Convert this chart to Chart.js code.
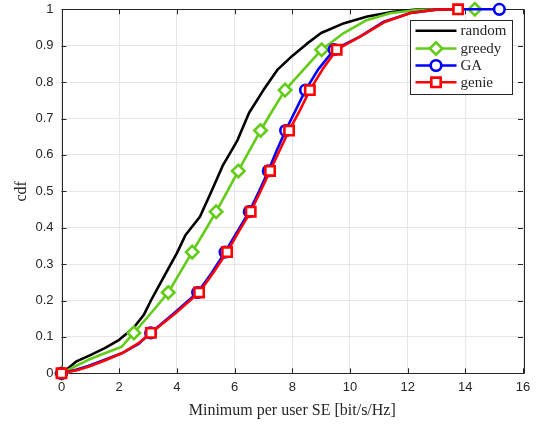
<!DOCTYPE html>
<html>
<head>
<meta charset="utf-8">
<script src="https://cdn.jsdelivr.net/npm/chart.js@4"></script>
<style>
html,body{margin:0;padding:0;background:#fff;}
#wrap{position:relative;width:539px;height:426px;}
</style>
</head>
<body>
<div id="wrap"><canvas id="c" width="539" height="426"></canvas></div>
<script>
// ---- data ----
const xTicks = [0, 2, 4, 6, 8, 10, 12, 14, 16];
const yTicks = [0, 0.1, 0.2, 0.3, 0.4, 0.5, 0.6, 0.7, 0.8, 0.9, 1];
const seriesNames = ['random', 'greedy', 'GA', 'genie'];

const randomX = [0, 0.2, 0.5, 1.0, 1.5, 2.0, 2.5, 2.85, 3.1, 3.5, 4.0, 4.3, 4.8, 5.2, 5.6, 6.1, 6.5, 7.0, 7.5, 8.0, 8.5, 9.0, 9.8, 10.6, 11.5, 12.3, 13.0];
const randomY = [0, 0.012, 0.032, 0.05, 0.069, 0.092, 0.125, 0.16, 0.2, 0.258, 0.33, 0.38, 0.43, 0.5, 0.572, 0.64, 0.715, 0.778, 0.835, 0.872, 0.905, 0.935, 0.962, 0.98, 0.993, 0.999, 1];

const greedyX = [0, 0.5, 0.93, 1.5, 2.09, 2.51, 3.1, 3.70, 4.1, 4.53, 5.0, 5.36, 5.75, 6.13, 6.5, 6.90, 7.3, 7.75, 8.4, 9.02, 9.77, 10.58, 11.39, 12.3, 13.2, 14.33];
const greedyY = [0, 0.02, 0.037, 0.055, 0.073, 0.111, 0.165, 0.222, 0.275, 0.333, 0.395, 0.444, 0.5, 0.556, 0.61, 0.667, 0.72, 0.778, 0.835, 0.889, 0.934, 0.97, 0.989, 0.998, 1, 1];
const greedyMarkX = [0, 2.51, 3.70, 4.53, 5.36, 6.13, 6.90, 7.75, 9.02, 14.33];
const greedyMarkY = [0, 0.111, 0.222, 0.333, 0.444, 0.556, 0.667, 0.778, 0.889, 1];

const gaX = [0, 0.5, 0.93, 1.5, 2.09, 2.66, 3.09, 3.9, 4.72, 5.2, 5.67, 6.1, 6.51, 6.85, 7.17, 7.45, 7.77, 8.1, 8.46, 8.9, 9.45, 10.35, 11.15, 12.1, 13.0, 13.8, 15.18];
const gaY = [0, 0.01, 0.02, 0.037, 0.055, 0.08, 0.111, 0.165, 0.222, 0.275, 0.333, 0.39, 0.444, 0.5, 0.556, 0.61, 0.667, 0.72, 0.778, 0.835, 0.889, 0.925, 0.965, 0.99, 0.999, 1, 1];
const gaMarkX = [0, 3.09, 4.72, 5.67, 6.51, 7.17, 7.77, 8.46, 9.45, 15.18];
const gaMarkY = [0, 0.111, 0.222, 0.333, 0.444, 0.556, 0.667, 0.778, 0.889, 1];

const genieX = [0, 0.5, 0.93, 1.5, 2.09, 2.66, 3.10, 3.95, 4.77, 5.25, 5.74, 6.15, 6.56, 6.9, 7.23, 7.55, 7.89, 8.25, 8.61, 9.05, 9.54, 10.35, 11.2, 12.1, 13.0, 13.75];
const genieY = [0, 0.008, 0.018, 0.035, 0.055, 0.082, 0.111, 0.165, 0.222, 0.275, 0.333, 0.39, 0.444, 0.5, 0.556, 0.61, 0.667, 0.72, 0.778, 0.835, 0.889, 0.925, 0.965, 0.99, 0.999, 1];
const genieMarkX = [0, 3.10, 4.77, 5.74, 6.56, 7.23, 7.89, 8.61, 9.54, 13.75];
const genieMarkY = [0, 0.111, 0.222, 0.333, 0.444, 0.556, 0.667, 0.778, 0.889, 1];

// ---- styles ----
const COLORS = {random: '#000000', greedy: 'rgb(98,204,24)', GA: '#0000ff', genie: '#ff0000'};
const STYLES = {random: null, greedy: 'rectRot', GA: 'circle', genie: 'rect'};
const RADII = {greedy: 6.2, GA: 5.3, genie: 6.6};
const LW = 2.6;
const AXIS = '#262626';

function pts(xs, ys) { return xs.map((x, i) => ({x: x, y: ys[i]})); }

function lineDs(name, xs, ys, order) {
  return {label: name, data: pts(xs, ys), showLine: true, borderColor: COLORS[name], borderWidth: LW,
    pointRadius: 0, fill: false, tension: 0, order: order, clip: false,
    borderJoinStyle: 'round', borderCapStyle: 'round'};
}
function markDs(name, xs, ys, order) {
  return {label: name + '_m', data: pts(xs, ys), showLine: false, borderColor: COLORS[name],
    backgroundColor: '#ffffff', pointStyle: STYLES[name], pointRadius: RADII[name],
    pointBorderWidth: LW, order: order, clip: false};
}

const datasets = [
  markDs('genie', genieMarkX, genieMarkY, 0),
  lineDs('genie', genieX, genieY, 1),
  markDs('GA', gaMarkX, gaMarkY, 2),
  lineDs('GA', gaX, gaY, 3),
  markDs('greedy', greedyMarkX, greedyMarkY, 4),
  lineDs('greedy', greedyX, greedyY, 5),
  lineDs('random', randomX, randomY, 6)
];

function drawMarker(ctx, style, x, y, r, color) {
  ctx.save();
  ctx.strokeStyle = color; ctx.fillStyle = '#fff'; ctx.lineWidth = LW;
  ctx.beginPath();
  if (style === 'rectRot') {
    ctx.moveTo(x - r, y); ctx.lineTo(x, y - r); ctx.lineTo(x + r, y); ctx.lineTo(x, y + r); ctx.closePath();
  } else if (style === 'circle') {
    ctx.arc(x, y, r, 0, Math.PI * 2);
  } else if (style === 'rect') {
    const s = r * Math.SQRT1_2; ctx.rect(x - s, y - s, 2 * s, 2 * s);
  }
  ctx.fill(); ctx.stroke();
  ctx.restore();
}

const framePlugin = {
  id: 'frame',
  beforeDatasetsDraw(chart) {
    const {ctx, chartArea: a, scales} = chart;
    ctx.save();
    ctx.strokeStyle = AXIS; ctx.lineWidth = 1;
    ctx.beginPath();
    ctx.rect(Math.round(a.left) + 0.5, Math.round(a.top) + 0.5, Math.round(a.right - a.left), Math.round(a.bottom - a.top));
    const T = 5;
    xTicks.forEach(v => {
      const px = Math.round(scales.x.getPixelForValue(v)) + 0.5;
      ctx.moveTo(px, a.bottom); ctx.lineTo(px, a.bottom - T);
      ctx.moveTo(px, a.top); ctx.lineTo(px, a.top + T);
    });
    yTicks.forEach(v => {
      const py = Math.round(scales.y.getPixelForValue(v)) + 0.5;
      ctx.moveTo(a.left, py); ctx.lineTo(a.left + T, py);
      ctx.moveTo(a.right, py); ctx.lineTo(a.right - T, py);
    });
    ctx.stroke();
    ctx.restore();
  },
  afterDatasetsDraw(chart) {
    const {ctx} = chart;
    ctx.save();
    // legend
    const L = {x0: 410.5, y0: 20.5, x1: 512.5, y1: 94.5};
    ctx.fillStyle = '#fff';
    ctx.fillRect(L.x0, L.y0, L.x1 - L.x0, L.y1 - L.y0);
    ctx.strokeStyle = AXIS; ctx.lineWidth = 1;
    ctx.strokeRect(L.x0, L.y0, L.x1 - L.x0, L.y1 - L.y0);
    const rows = [30.7, 48.5, 65.5, 82.3];
    ctx.font = '15px "Liberation Serif", "DejaVu Serif", serif';
    ctx.textBaseline = 'middle'; ctx.textAlign = 'left';
    seriesNames.forEach((n, i) => {
      const y = rows[i];
      ctx.strokeStyle = COLORS[n]; ctx.lineWidth = LW;
      ctx.beginPath(); ctx.moveTo(415.5, y); ctx.lineTo(456.5, y); ctx.stroke();
      if (STYLES[n]) drawMarker(ctx, STYLES[n], 436, y, RADII[n], COLORS[n]);
      ctx.fillStyle = AXIS;
      ctx.fillText(n, 460.5, y + 0.5);
    });
    ctx.restore();
  }
};

new Chart(document.getElementById('c'), {
  type: 'scatter',
  data: {datasets: datasets},
  plugins: [framePlugin],
  options: {
    responsive: false,
    animation: false,
    events: [],
    layout: {padding: {top: 9.3, right: 16, left: 0, bottom: 0}},
    plugins: {legend: {display: false}, tooltip: {enabled: false}},
    scales: {
      x: {
        type: 'linear', min: 0, max: 16,
        afterBuildTicks: s => { s.ticks = xTicks.map(v => ({value: v})); },
        afterFit: s => { s.height = 52.7; s.paddingLeft = 0; s.paddingRight = 0; },
        ticks: {color: AXIS, font: {family: '"Liberation Sans", Arial, sans-serif', size: 13}, padding: 6, maxRotation: 0,
          callback: v => String(v)},
        grid: {color: '#e6e6e6', lineWidth: 1, drawTicks: false},
        border: {display: false},
        title: {display: true, text: 'Minimum per user SE [bit/s/Hz]', color: AXIS,
          font: {family: '"Liberation Serif", "DejaVu Serif", serif', size: 16}, padding: {top: 0, bottom: 6}}
      },
      y: {
        type: 'linear', min: 0, max: 1,
        afterBuildTicks: s => { s.ticks = yTicks.map(v => ({value: v})); },
        afterFit: s => { s.width = 61.5; s.paddingTop = 0; s.paddingBottom = 0; },
        ticks: {color: AXIS, font: {family: '"Liberation Sans", Arial, sans-serif', size: 13}, padding: 8,
          callback: v => String(Math.round(v * 10) / 10)},
        grid: {color: '#e6e6e6', lineWidth: 1, drawTicks: false},
        border: {display: false},
        title: {display: true, text: 'cdf', color: AXIS,
          font: {family: '"Liberation Serif", "DejaVu Serif", serif', size: 16}, padding: {top: 12, bottom: 0}}
      }
    }
  }
});
</script>
</body>
</html>
